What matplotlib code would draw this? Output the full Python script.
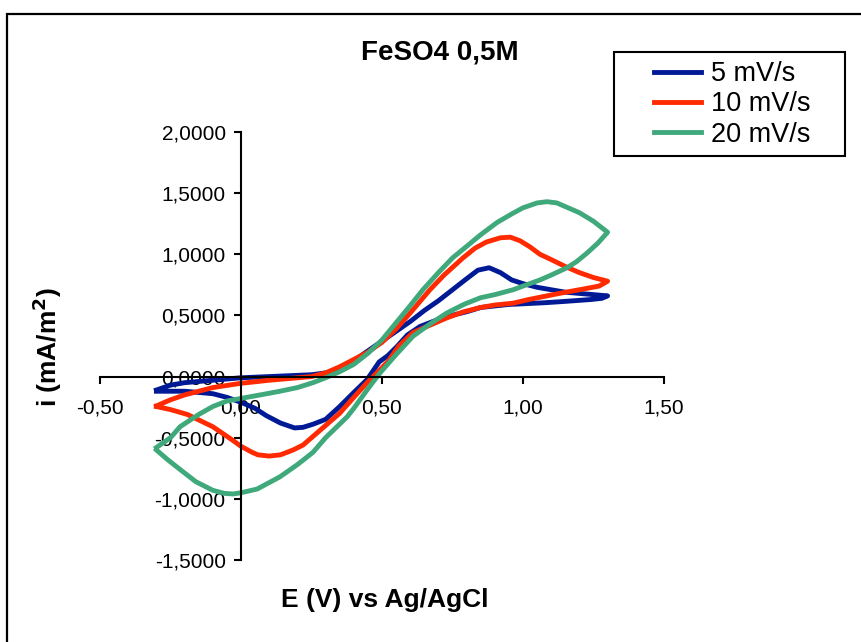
import matplotlib
matplotlib.use("Agg")
import matplotlib.pyplot as plt
from matplotlib.patches import Rectangle
from matplotlib.ticker import FuncFormatter

# cyclic voltammograms, FeSO4 0,5M (E in V vs Ag/AgCl, i in mA/m2)
e_5 = [-0.30, -0.25, -0.20, -0.10, 0.00, 0.10, 0.20, 0.25, 0.30, 0.35, 0.40, 0.45,
       0.50, 0.55, 0.60, 0.65, 0.70, 0.75, 0.80, 0.84, 0.88, 0.92, 0.96, 1.00, 1.05,
       1.10, 1.15, 1.20, 1.25, 1.30,
       1.28, 1.24, 1.15, 1.085, 1.00, 0.95, 0.85, 0.80, 0.73, 0.68, 0.635, 0.59,
       0.553, 0.52, 0.49, 0.447, 0.40, 0.35, 0.30, 0.255, 0.22, 0.19, 0.14, 0.09,
       0.05, 0.00, -0.05, -0.10, -0.20, -0.30]
i_5 = [-0.11, -0.07, -0.05, -0.03, -0.01, 0.00, 0.01, 0.015, 0.03, 0.06, 0.13, 0.21,
       0.29, 0.37, 0.45, 0.54, 0.62, 0.71, 0.80, 0.87, 0.89, 0.85, 0.79, 0.76, 0.73,
       0.71, 0.69, 0.68, 0.67, 0.66,
       0.64, 0.63, 0.615, 0.605, 0.595, 0.59, 0.565, 0.53, 0.49, 0.45, 0.41, 0.34,
       0.245, 0.17, 0.12, -0.025, -0.13, -0.245, -0.35, -0.39, -0.415, -0.42, -0.38,
       -0.32, -0.26, -0.21, -0.17, -0.14, -0.12, -0.12]

e_10 = [-0.30, -0.25, -0.20, -0.10, 0.00, 0.10, 0.20, 0.25, 0.30, 0.35, 0.40, 0.45,
        0.50, 0.55, 0.60, 0.67, 0.72, 0.787, 0.83, 0.87, 0.92, 0.955, 0.99, 1.025,
        1.06, 1.106, 1.15, 1.20, 1.25, 1.30,
        1.27, 1.20, 1.14, 1.085, 1.02, 0.965, 0.90, 0.85, 0.79, 0.73, 0.67, 0.61,
        0.56, 0.52, 0.49, 0.447, 0.40, 0.35, 0.30, 0.255, 0.22, 0.185, 0.14, 0.10,
        0.06, 0.04, 0.00, -0.03, -0.10, -0.19, -0.25, -0.30]
i_10 = [-0.24, -0.19, -0.15, -0.09, -0.055, -0.03, -0.01, 0.00, 0.03, 0.08, 0.14,
        0.20, 0.28, 0.39, 0.52, 0.71, 0.83, 0.97, 1.05, 1.10, 1.135, 1.14, 1.11, 1.06,
        1.00, 0.95, 0.90, 0.85, 0.81, 0.78,
        0.74, 0.71, 0.685, 0.66, 0.63, 0.60, 0.585, 0.565, 0.53, 0.48, 0.42, 0.36,
        0.25, 0.12, 0.05, -0.05, -0.17, -0.30, -0.40, -0.49, -0.56, -0.60, -0.64,
        -0.65, -0.64, -0.62, -0.57, -0.52, -0.41, -0.31, -0.27, -0.245]

e_20 = [-0.30, -0.25, -0.216, -0.15, -0.10, -0.05, 0.02, 0.08, 0.138, 0.20, 0.255,
        0.30, 0.35, 0.40, 0.45, 0.50, 0.55, 0.60, 0.645, 0.70, 0.75, 0.787, 0.85,
        0.908, 0.96, 1.00, 1.05, 1.085, 1.12, 1.16, 1.20, 1.25, 1.30,
        1.265, 1.227, 1.19, 1.156, 1.10, 1.06, 1.00, 0.965, 0.90, 0.85, 0.79, 0.73,
        0.67, 0.61, 0.55, 0.493, 0.45, 0.40, 0.376, 0.30, 0.255, 0.20, 0.138, 0.057,
        0.00, -0.028, -0.06, -0.10, -0.16, -0.216, -0.26, -0.30]
i_20 = [-0.58, -0.50, -0.41, -0.31, -0.245, -0.20, -0.17, -0.145, -0.12, -0.09,
        -0.05, -0.01, 0.04, 0.10, 0.19, 0.30, 0.44, 0.58, 0.71, 0.85, 0.97, 1.04, 1.16,
        1.26, 1.33, 1.38, 1.42, 1.43, 1.42, 1.38, 1.34, 1.27, 1.18,
        1.09, 1.01, 0.94, 0.89, 0.83, 0.79, 0.74, 0.71, 0.67, 0.645, 0.59, 0.52, 0.43,
        0.33, 0.18, 0.03, -0.10, -0.26, -0.33, -0.50, -0.62, -0.72, -0.82, -0.92,
        -0.95, -0.96, -0.955, -0.93, -0.86, -0.76, -0.68, -0.60]

labels = ["5 mV/s", "10 mV/s", "20 mV/s"]
colors = ["#001a96", "#ff2a00", "#40a97c"]

plt.rcParams["font.family"] = ["Liberation Sans", "DejaVu Sans"]

fig = plt.figure(figsize=(8.62, 6.42), dpi=100)
ax = fig.add_axes([100 / 862, 1 - 560 / 642, 564 / 862, 428 / 642])

for e, i, lab, c in zip([e_5, e_10, e_20], [i_5, i_10, i_20], labels, colors):
    ax.plot(e, i, color=c, lw=3.5, label=lab, solid_joinstyle="round")

ax.set_xlim(-0.5, 1.5)
ax.set_ylim(-1.5, 2.0)
ax.set_xticks([-0.5, 0.0, 0.5, 1.0, 1.5])
ax.set_yticks([-1.5, -1.0, -0.5, 0.0, 0.5, 1.0, 1.5, 2.0])
ax.xaxis.set_major_formatter(FuncFormatter(lambda v, p: f"{v:.2f}".replace(".", ",")))
ax.yaxis.set_major_formatter(FuncFormatter(lambda v, p: f"{v:.4f}".replace(".", ",")))

# Excel-style axes crossing at zero
ax.spines["left"].set_position(("data", 0))
ax.spines["bottom"].set_position(("data", 0))
ax.spines["top"].set_visible(False)
ax.spines["right"].set_visible(False)
for s in ("left", "bottom"):
    ax.spines[s].set_linewidth(1.5)
ax.tick_params(axis="x", direction="out", length=5, width=1.5, pad=11, labelsize=15)
ax.tick_params(axis="y", direction="out", length=5, width=1.5, pad=6, labelsize=15)
ax.patch.set_visible(False)

fig.text(440 / 862, 1 - 52 / 642, "FeSO4 0,5M", ha="center", va="center",
         fontsize=20, fontweight="bold")
fig.text(385 / 862, 1 - 600 / 642, "E (V) vs Ag/AgCl", ha="center", va="center",
         fontsize=19, fontweight="bold")
fig.text(47 / 862, 1 - 347 / 642, r"i (mA/m$^\mathbf{2}$)", ha="center", va="center",
         rotation=90, fontsize=19, fontweight="bold")

leg = fig.legend(loc="upper left", bbox_to_anchor=(654 / 862, 1 - 61 / 642),
                 fontsize=19.5, frameon=False, handlelength=1.75,
                 handletextpad=0.35, labelspacing=0.16, borderpad=0,
                 borderaxespad=0)

# legend box and outer chart border
fig.patches.append(Rectangle((614 / 862, 1 - 156 / 642), 231 / 862, 104 / 642,
                             transform=fig.transFigure, fill=False,
                             edgecolor="black", lw=1.5))
fig.patches.append(Rectangle((7 / 862, -0.1), 1.2, 1.1 - 14 / 642,
                             transform=fig.transFigure, fill=False,
                             edgecolor="black", lw=1.6))

fig.savefig("out.png", dpi=100)
